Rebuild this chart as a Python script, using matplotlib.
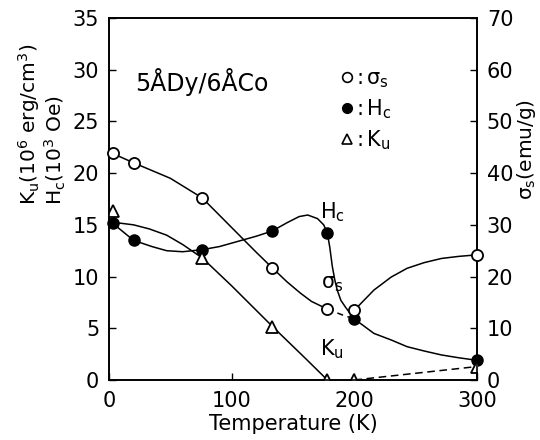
import matplotlib
matplotlib.use("Agg")
import matplotlib.pyplot as plt
from matplotlib.lines import Line2D

plt.rcParams["font.family"] = ["DejaVu Sans"]
plt.rcParams["mathtext.default"] = "regular"

# measured points
sig_t = [3, 20, 76, 133, 178, 200, 300]
sig_v = [43.8, 42.0, 35.2, 21.7, 13.7, 13.5, 24.2]     # emu/g (right axis)
hc_t = [3, 20, 76, 133, 178, 200, 300]
hc_v = [15.15, 13.5, 12.6, 14.4, 14.2, 5.9, 1.9]        # 10^3 Oe
ku_t = [3, 76, 133, 178, 200, 300]
ku_v = [16.3, 11.8, 5.1, 0.0, 0.0, 1.3]                  # 10^6 erg/cm^3

# hand-drawn guide curves
sig_curve_t = [3, 20, 50, 76, 107, 120, 133, 145, 156, 165, 178]
sig_curve_v = [43.8, 42.0, 39.0, 35.2, 27.8, 24.7, 21.7, 19.0, 16.8, 15.2, 13.7]
sig_dash_t = [178, 190, 200]
sig_dash_v = [13.7, 12.6, 11.8]
sig_curve2_t = [200, 216, 230, 243, 257, 271, 285, 300]
sig_curve2_v = [13.5, 17.4, 19.9, 21.6, 22.7, 23.5, 23.9, 24.2]

hc_curve_t = [0, 3, 20, 35, 47, 60, 76, 90, 105, 120, 133, 145, 155, 162,
              170, 175, 178, 180, 182, 184, 186, 189, 193, 200, 216, 230,
              243, 257, 271, 285, 300]
hc_curve_v = [15.3, 15.15, 13.5, 12.9, 12.5, 12.4, 12.6, 12.9, 13.4, 13.9,
              14.4, 15.2, 15.8, 15.95, 15.6, 15.0, 14.2, 12.8, 11.0, 9.7,
              8.7, 7.7, 7.0, 5.9, 4.5, 3.87, 3.22, 2.8, 2.42, 2.15, 1.9]

ku_curve_t = [0, 20, 33, 47, 60, 76, 100, 133, 160, 178]
ku_curve_v = [15.3, 15.0, 14.6, 14.0, 13.1, 11.8, 9.1, 5.2, 2.1, 0.0]
ku_dash_t = [200, 300]
ku_dash_v = [0.0, 1.3]

fig = plt.figure(figsize=(5.4, 4.4), dpi=100)
ax = fig.add_axes([0.2019, 0.1364, 0.6815, 0.8227])
ax2 = ax.twinx()

lw = 1.1
ax2.plot(sig_curve_t, sig_curve_v, color="black", lw=lw)
ax2.plot(sig_dash_t, sig_dash_v, color="black", lw=lw, ls=(0, (4, 3)))
ax2.plot(sig_curve2_t, sig_curve2_v, color="black", lw=lw)
ax.plot(hc_curve_t, hc_curve_v, color="black", lw=lw)
ax.plot(ku_curve_t, ku_curve_v, color="black", lw=lw)
ax.plot(ku_dash_t, ku_dash_v, color="black", lw=lw, ls=(0, (5, 3)))

ax2.plot(sig_t, sig_v, ls="none", marker="o", ms=8, mfc="white", mec="black",
         mew=1.3, clip_on=False, zorder=5)
ax.plot(hc_t, hc_v, ls="none", marker="o", ms=8, mfc="black", mec="black",
        clip_on=False, zorder=5)
ax.plot(ku_t, ku_v, ls="none", marker="^", ms=8, mfc="white", mec="black",
        mew=1.3, zorder=5)

ax.set_xlim(0, 300)
ax.set_ylim(0, 35)
ax2.set_ylim(0, 70)
ax.set_xticks([0, 100, 200, 300])
ax.set_yticks(range(0, 36, 5))
ax2.set_yticks(range(0, 71, 10))
ax.tick_params(direction="in", length=5, width=1, labelsize=15, pad=7)
ax.tick_params(axis="x", pad=8)
ax2.tick_params(direction="in", length=5, width=1, labelsize=15, pad=7)
for a in (ax, ax2):
    for s in a.spines.values():
        s.set_linewidth(1.2)

ax.set_xlabel("Temperature (K)", fontsize=15, labelpad=2)
fig.text(0.053, 0.534, r"K$_u$(10$^6$ erg/cm$^3$)", rotation=90,
         ha="center", va="bottom", fontsize=14.5)
fig.text(0.102, 0.534, r"H$_c$(10$^3$ Oe)", rotation=90,
         ha="center", va="bottom", fontsize=14.5)
fig.text(0.975, 0.545, r"$\sigma_s$(emu/g)", rotation=90,
         ha="center", va="bottom", fontsize=14.5)

ax.text(21, 28.8, "5ÅDy/6ÅCo", fontsize=17, va="center")
ax.text(172, 16.2, r"H$_c$", fontsize=15, va="center")
ax.text(173, 9.3, r"$\sigma_s$", fontsize=15, va="center")
ax.text(172, 3.0, r"K$_u$", fontsize=15, va="center")

handles = [
    Line2D([], [], ls="none", marker="o", ms=7, mfc="white", mec="black", mew=1.2),
    Line2D([], [], ls="none", marker="o", ms=7, mfc="black", mec="black"),
    Line2D([], [], ls="none", marker="^", ms=7, mfc="white", mec="black", mew=1.2),
]
labels = [r":$\,\sigma_s$", r":$\,$H$_c$", r":$\,$K$_u$"]
ax.legend(handles, labels, loc="upper left", bbox_to_anchor=(0.63, 0.86),
          frameon=False, fontsize=15, handlelength=0.6, handletextpad=0.15,
          labelspacing=0.35, borderaxespad=0, borderpad=0)

fig.savefig("out.png", dpi=100)
